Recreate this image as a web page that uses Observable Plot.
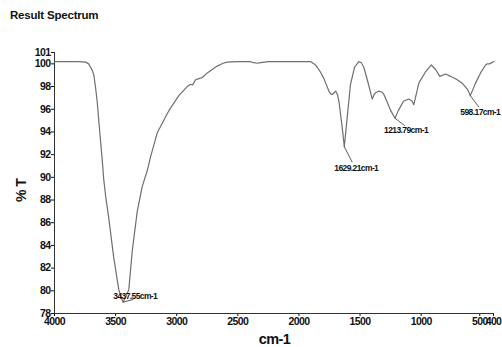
<!DOCTYPE html>
<html><head><meta charset="utf-8">
<script src="https://cdn.jsdelivr.net/npm/d3@7"></script>
<script src="https://cdn.jsdelivr.net/npm/@observablehq/plot@0.6"></script>
<style>
body{margin:0;background:#fff;width:502px;height:347px;overflow:hidden}
#title{height:30px;box-sizing:border-box;padding:8px 0 0 10px;font:bold 11.5px "Liberation Sans",Arial,sans-serif;line-height:14px;color:#111;letter-spacing:-0.2px}
</style></head><body>
<div id="title">Result Spectrum</div>
<div id="chart"></div>
<script>
// Spectrum trace (wavenumber cm-1, %T)
const wavenumber = [4000,3800,3746,3720,3705,3690,3678,3665,3651,3629,3610,3597,3580,3556,3515,3474,3455,3438,3420,3392,3364,3323,3282,3241,3214,3160,3078,3051,2983,2914,2887,2870,2846,2819,2790,2750,2669,2620,2587,2500,2400,2370,2340,2315,2250,2100,2000,1905,1870,1850,1820,1796,1755,1740,1728,1712,1700,1685,1673,1646,1629,1605,1578,1545,1510,1490,1469,1436,1400,1385,1373,1346,1320,1305,1281,1250,1214,1186,1145,1101,1073,1060,1019,964,917,882,847,800,759,705,664,618,598,555,514,473,459,440,405];
const transmittance = [100.2,100.2,100.15,100.0,99.7,99.4,99.0,98.0,96.7,93.9,91.6,89.8,88.2,86.4,82.9,80.1,79.4,79.0,79.4,80.1,83.5,87.0,89.2,90.6,91.8,93.9,95.6,96.1,97.2,98.0,98.2,98.15,98.6,98.7,98.8,99.2,99.8,100.05,100.15,100.2,100.2,100.1,100.05,100.1,100.2,100.2,100.2,100.2,99.95,99.7,99.2,98.7,97.6,97.35,97.3,97.45,97.6,97.3,96.7,94.4,92.7,95.3,98.2,99.7,100.2,100.1,99.7,98.4,96.9,97.3,97.45,97.6,97.5,97.3,96.7,95.9,95.2,95.9,96.7,96.9,96.7,96.4,98.3,99.3,99.9,99.5,98.9,99.1,98.9,98.6,98.3,97.7,97.2,98.3,99.2,99.9,100.0,100.0,100.2];

// Labelled peaks
const peakWavenumbers = [3437.55, 1629.21, 1213.79, 598.17];
const peakValues = [79.0, 92.7, 95.2, 97.2];
const peakLabels = ["3437.55cm-1", "1629.21cm-1", "1213.79cm-1", "598.17cm-1"];

// Axis ticks
const xTicksMain = [4000,3500,3000,2500,2000,1500,1000];
const xTick500 = [500];
const xTick400 = [400];
const yTicks = [78,80,82,84,86,88,90,92,94,96,98,100,101];

const spectrum = wavenumber.map((w, i) => ({w, t: transmittance[i]}));
const peaks = peakWavenumbers.map((w, i) => ({w, t: peakValues[i], label: peakLabels[i]}));

// label placement (pixels): text offset and leader direction
const layout = [
  {dx: 12, dy: -6, rot: 75, len: 10},
  {dx: 12, dy: 22, rot: 153, len: 17},
  {dx: 11, dy: 12, rot: 127, len: 12},
  {dx: 10, dy: 17, rot: 143, len: 14}
];

const lineShape = {draw(context, l) { context.moveTo(0, 0); context.lineTo(0, -l); }};
const FONT = '"Liberation Sans",Arial,sans-serif';

const xAxisOpts = {tickSize: 3, tickPadding: 1, label: null, tickFormat: d => String(d)};

const chart = Plot.plot({
  width: 502,
  height: 317,
  marginLeft: 54,
  marginRight: 8,
  marginTop: 22,
  marginBottom: 34,
  style: {fontFamily: FONT, fontWeight: "bold", fontSize: "10.5px", color: "#111", background: "#fff", letterSpacing: "-0.6px"},
  x: {domain: [4000, 400]},
  y: {domain: [78, 101]},
  marks: [
    Plot.axisX({...xAxisOpts, ticks: xTicksMain}),
    Plot.axisX({...xAxisOpts, ticks: xTick500, dx: -2.5}),
    Plot.axisX({...xAxisOpts, ticks: xTick400, dx: -1}),
    Plot.axisY({ticks: yTicks, tickSize: 3, tickPadding: 1, label: null, tickFormat: d => String(d)}),
    Plot.ruleX([4000], {stroke: "#333"}),
    Plot.ruleY([78], {stroke: "#333"}),
    Plot.line(spectrum, {x: "w", y: "t", stroke: "#6e6e6e", strokeWidth: 1.2}),
    ...peaks.map((p, i) => Plot.vector([p], {x: "w", y: "t", anchor: "start", shape: lineShape, length: layout[i].len, rotate: layout[i].rot, stroke: "#444", strokeWidth: 0.8})),
    ...peaks.map((p, i) => Plot.text([p], {x: "w", y: "t", text: "label", dx: layout[i].dx, dy: layout[i].dy, fontSize: 8.5, fill: "#111"})),
    Plot.text(["% T"], {frameAnchor: "left", dx: -33, dy: 19, rotate: -90, fontSize: 14, fill: "#111"}),
    Plot.text(["cm-1"], {frameAnchor: "bottom", lineAnchor: "middle", dy: 26, fontSize: 14.5, fill: "#111"})
  ]
});
document.getElementById("chart").appendChild(chart);
</script>
</body></html>
